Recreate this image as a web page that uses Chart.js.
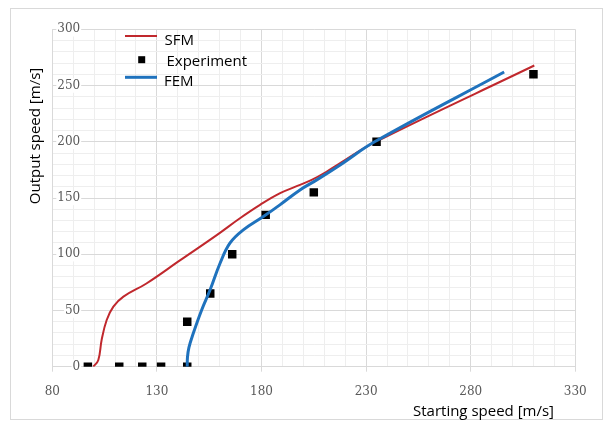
<!DOCTYPE html>
<html>
<head>
<meta charset="utf-8">
<script src="https://cdn.jsdelivr.net/npm/chart.js@4/dist/chart.umd.min.js"></script>
<style>
  html, body { margin: 0; padding: 0; background: #fff; }
  #wrap { width: 605px; height: 428px; position: relative; }
</style>
</head>
<body>
<div id="wrap"><canvas id="c" width="605" height="428"></canvas></div>
<script>
// Measured output speed vs starting speed
const expX = [97, 112, 123, 132, 144.5, 144.5, 155.5, 166, 182, 205, 235, 310];
const expY = [0, 0, 0, 0, 0, 40, 65, 100, 135, 155, 200, 260];

// SFM model curve
const sfmX = [99.6, 102, 103.6, 106, 109.2, 114, 125, 141, 158.6, 169.7, 179.3, 188.9, 198.4, 204, 211.2, 217.6, 233.4, 310.4];
const sfmY = [0, 6, 24, 41.5, 53.4, 62.3, 74, 94.5, 117, 132, 143.9, 154.3, 161.7, 166.1, 173.5, 181, 198.8, 267.8];

// FEM model curve
const femX = [144.5, 144.6, 145.3, 147.4, 151.4, 155.4, 160.2, 164.9, 171.3, 180.9, 188.8, 198.4, 206.4, 217.6, 234.3, 296];
const femY = [0, 8, 17, 29.7, 50.4, 68.2, 92, 109.8, 121.6, 133.5, 143.9, 157.2, 166.1, 179.4, 200.2, 262];

// Labelled (major) ticks
const xTicks = [80, 130, 180, 230, 280, 330];
const yTicks = [0, 50, 100, 150, 200, 250, 300];

const seriesNames = ['SFM', 'Experiment', 'FEM'];
const xTitle = 'Starting speed [m/s]';
const yTitle = 'Output speed [m/s]';

const RED = '#c0282d';
const BLUE = '#1f72bd';
const MAJOR = '#d9d9d9';
const MINOR = '#eeeeee';
const TEXT_FONT = '"Open Sans", sans-serif';

const toPoints = (xs, ys) => xs.map((x, i) => ({ x: x, y: ys[i] }));

const isMajor = (list, v) => list.includes(Math.round(v));

// Frame, legend and axis titles
const decor = {
  id: 'decor',
  beforeDraw(chart) {
    const ctx = chart.ctx;
    ctx.save();
    ctx.fillStyle = '#ffffff';
    ctx.fillRect(0, 0, chart.width, chart.height);
    ctx.strokeStyle = '#d9d9d9';
    ctx.lineWidth = 1;
    ctx.strokeRect(10.5, 8.5, 592, 411);
    ctx.restore();
  },
  afterDraw(chart) {
    const ctx = chart.ctx;
    ctx.save();
    ctx.fillStyle = '#000000';
    ctx.font = '15px ' + TEXT_FONT;
    ctx.textBaseline = 'middle';
    ctx.textAlign = 'left';

    // legend
    ctx.lineCap = 'butt';
    ctx.strokeStyle = RED;
    ctx.lineWidth = 2;
    ctx.beginPath(); ctx.moveTo(125, 36); ctx.lineTo(157, 36); ctx.stroke();
    ctx.fillText(seriesNames[0], 164.5, 41);

    ctx.fillStyle = '#000000';
    ctx.fillRect(138.2, 56.2, 7, 7);
    ctx.fillText(seriesNames[1], 166.5, 61.5);

    ctx.strokeStyle = BLUE;
    ctx.lineWidth = 3;
    ctx.beginPath(); ctx.moveTo(125, 77.3); ctx.lineTo(157, 77.3); ctx.stroke();
    ctx.fillText(seriesNames[2], 164, 82);

    // axis titles
    ctx.textBaseline = 'alphabetic';
    ctx.textAlign = 'center';
    ctx.fillText(xTitle, 483.5, 416);

    ctx.translate(39.5, 136);
    ctx.rotate(-Math.PI / 2);
    ctx.fillText(yTitle, 0, 0);
    ctx.restore();
  }
};

const tickFont = { family: '"DejaVu Serif", serif', size: 12 };

new Chart(document.getElementById('c'), {
  type: 'scatter',
  data: {
    datasets: [
      {
        label: seriesNames[2],
        data: toPoints(femX, femY),
        showLine: true,
        borderColor: BLUE,
        borderWidth: 3,
        pointRadius: 0,
        tension: 0.4,
        order: 0
      },
      {
        label: seriesNames[1],
        data: toPoints(expX, expY),
        showLine: false,
        pointStyle: 'rect',
        pointRadius: 6,
        pointBackgroundColor: '#000000',
        pointBorderColor: '#000000',
        pointBorderWidth: 0,
        order: 1
      },
      {
        label: seriesNames[0],
        data: toPoints(sfmX, sfmY),
        showLine: true,
        borderColor: RED,
        borderWidth: 2,
        pointRadius: 0,
        tension: 0.4,
        order: 2
      }
    ]
  },
  options: {
    responsive: false,
    devicePixelRatio: 1,
    animation: false,
    layout: { padding: { left: 0, top: 29.3, right: 29.7, bottom: 0 } },
    plugins: {
      legend: { display: false },
      tooltip: { enabled: false },
      title: { display: false }
    },
    scales: {
      x: {
        type: 'linear',
        min: 80,
        max: 330,
        afterFit: (s) => { s.height = 61.3; },
        border: { color: MAJOR },
        grid: {
          color: (c) => (c.tick && isMajor(xTicks, c.tick.value)) ? MAJOR : MINOR,
          tickColor: (c) => (c.tick && isMajor(xTicks, c.tick.value)) ? MAJOR : 'rgba(0,0,0,0)',
          tickLength: 5
        },
        ticks: {
          stepSize: 10,
          autoSkip: false,
          maxRotation: 0,
          padding: 13,
          color: '#595959',
          font: tickFont,
          callback: (v) => isMajor(xTicks, v) ? String(Math.round(v)) : ''
        }
      },
      y: {
        type: 'linear',
        min: 0,
        max: 300,
        afterFit: (s) => { s.width = 52.3; },
        border: { color: MAJOR },
        grid: {
          color: (c) => (c.tick && isMajor(yTicks, c.tick.value)) ? MAJOR : MINOR,
          drawTicks: false,
          tickLength: 0
        },
        ticks: {
          stepSize: 10,
          autoSkip: false,
          mirror: true,
          crossAlign: 'far',
          padding: 5,
          color: '#595959',
          font: tickFont,
          showLabelBackdrop: true,
          backdropColor: (c) => (c.tick && isMajor(yTicks, c.tick.value)) ? '#ffffff' : 'rgba(0,0,0,0)',
          backdropPadding: { top: 0, bottom: 0, left: 1, right: 1 },
          callback: (v) => isMajor(yTicks, v) ? String(Math.round(v)) : ''
        }
      }
    }
  },
  plugins: [decor]
});
</script>
</body>
</html>
